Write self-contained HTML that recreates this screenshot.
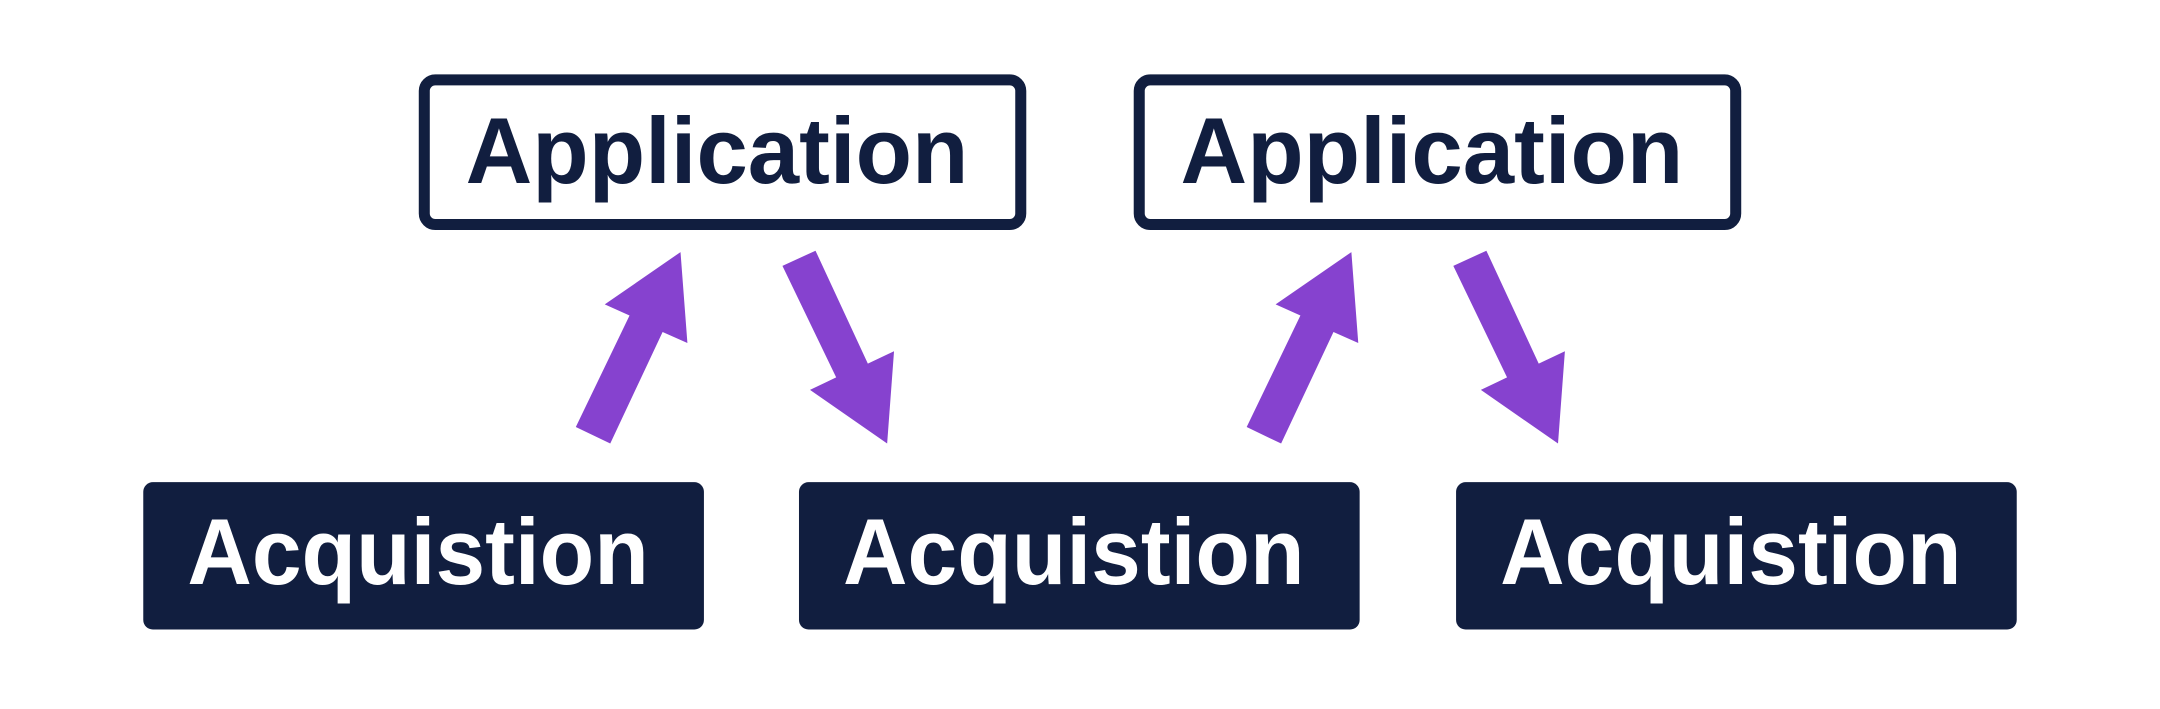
<!DOCTYPE html>
<html><head><meta charset="utf-8"><style>
html,body{margin:0;padding:0;background:#fff;width:2160px;height:709px;overflow:hidden}
svg{display:block}
text{font-family:"Liberation Sans",sans-serif;font-weight:bold}
</style></head><body>
<svg width="2160" height="709" viewBox="0 0 1568 514.7" preserveAspectRatio="none">
<g fill="#fff" stroke="#111e3f" stroke-width="8">
<rect x="308" y="58" width="433" height="105" rx="8"/>
<rect x="827" y="58" width="433" height="105" rx="8"/>
</g>
<g fill="#111e3f">
<rect x="104" y="350" width="407" height="107" rx="7"/>
<rect x="580" y="350" width="407" height="107" rx="7"/>
<rect x="1057" y="350" width="407" height="107" rx="7"/>
</g>
<g font-size="68" fill="#111e3f">
<text x="338" y="133" textLength="365" lengthAdjust="spacingAndGlyphs">Application</text>
<text x="857" y="133" textLength="365" lengthAdjust="spacingAndGlyphs">Application</text>
</g>
<g font-size="68" fill="#fff">
<text x="136" y="424" textLength="335" lengthAdjust="spacingAndGlyphs">Acquistion</text>
<text x="612" y="424" textLength="335" lengthAdjust="spacingAndGlyphs">Acquistion</text>
<text x="1089" y="424" textLength="335" lengthAdjust="spacingAndGlyphs">Acquistion</text>
</g>
<g fill="#8642cf">
<polygon points="418,310 443,322 481,241 499,249 494,183 439,221 457,229"/>
<polygon points="568,193 592,182 630,264 649,255 644,322 588,283 607,274"/>
</g>
<g fill="#8642cf" transform="translate(487,0)">
<polygon points="418,310 443,322 481,241 499,249 494,183 439,221 457,229"/>
<polygon points="568,193 592,182 630,264 649,255 644,322 588,283 607,274"/>
</g>
</svg>
</body></html>
